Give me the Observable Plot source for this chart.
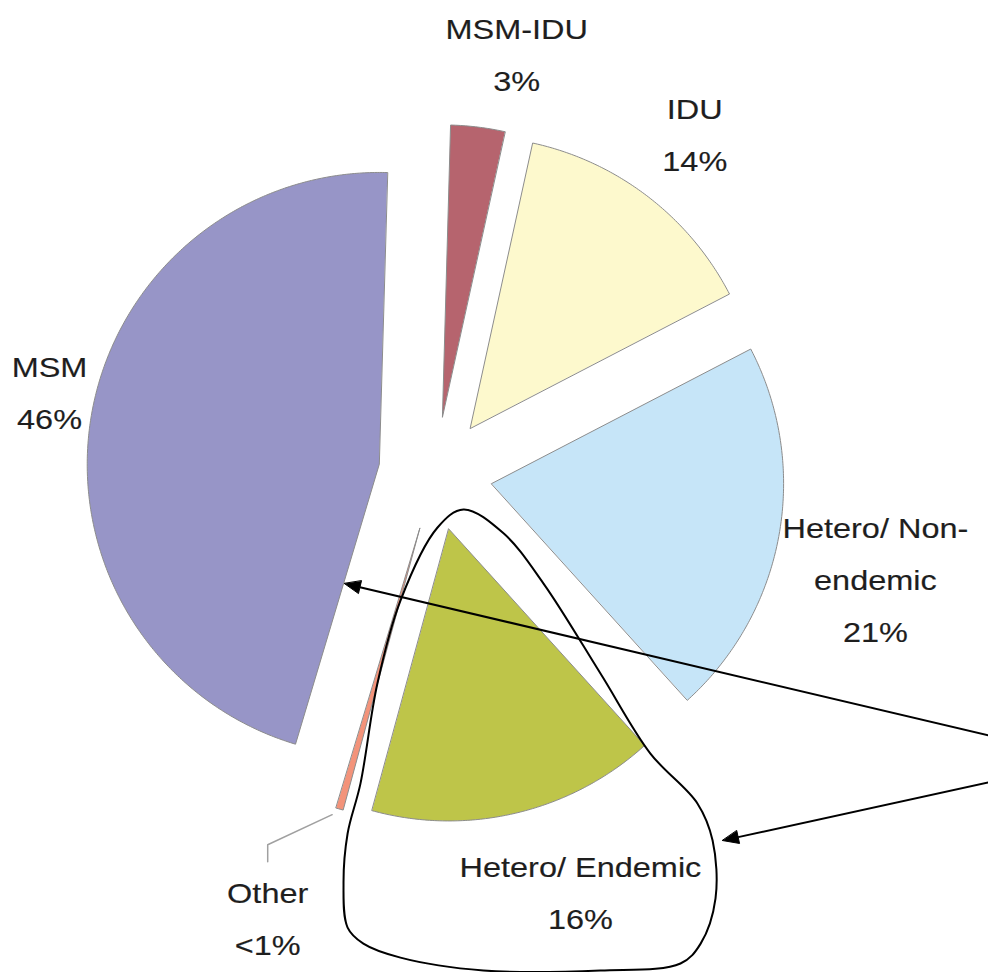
<!DOCTYPE html>
<html><head><meta charset="utf-8">
<script src="https://cdn.jsdelivr.net/npm/d3@7"></script>
<script src="https://cdn.jsdelivr.net/npm/@observablehq/plot@0.6"></script>
<style>
html,body{margin:0;padding:0;background:#fff;}
#chart svg{display:block;background:#fff;}
</style>
</head><body><div id="chart"></div>
<script>
// ---- data ----
const categories = ["MSM-IDU", "IDU", "Hetero/ Non-endemic", "Hetero/ Endemic", "Other", "MSM"];
const shares = [3, 14, 21, 16, 0.4, 46];
const shareLabels = ["3%", "14%", "21%", "16%", "<1%", "46%"];
const labelNames = ["MSM-IDU", "IDU", "Hetero/ Non-\nendemic", "Hetero/ Endemic", "Other", "MSM"];

// ---- styles / layout ----
const colors = ["#b6646e", "#fdf9cd", "#c6e5f8", "#bec549", "#f3937a", "#9795c7"];
const W = 988, H = 972;
const cx = 435, cy = 473, R = 292;      // pie centre and radius in pixels
const explode = 57 / R;                  // slice offset, in radii
const startDeg = 1.6;
const labelRadius = [1.46, 1.46, 1.55, 1.52, 1.63, 1.35];
const labelTurn = [4, 0, 3.4, -5.6, 4.7, 2.6];
const labelLift = 7 / R;
const rad = d => d * Math.PI / 180;

const arcs = d3.pie().sort(null).value(d => d)
  .startAngle(rad(startDeg)).endAngle(rad(startDeg + 360))(shares);

// slice outlines in the pie frame (unit radius, y up)
const sliceRows = [];
arcs.forEach((a, i) => {
  const m = (a.startAngle + a.endAngle) / 2;
  const ox = explode * Math.sin(m), oy = explode * Math.cos(m);
  const name = categories[i];
  sliceRows.push({name, x: ox, y: oy});
  const n = Math.max(2, Math.ceil((a.endAngle - a.startAngle) / rad(0.5)) + 1);
  for (let k = 0; k < n; k++) {
    const t = a.startAngle + (a.endAngle - a.startAngle) * k / (n - 1);
    sliceRows.push({name, x: ox + Math.sin(t), y: oy + Math.cos(t)});
  }
});

const labelRows = arcs.map((a, i) => {
  const m = (a.startAngle + a.endAngle) / 2 + rad(labelTurn[i]);
  return {name: categories[i], text: labelNames[i] + "\n" + shareLabels[i],
    x: labelRadius[i] * Math.sin(m), y: labelRadius[i] * Math.cos(m) + labelLift};
});

// leader for "Other"
const oi = 4, oa = arcs[oi], om = (oa.startAngle + oa.endAngle) / 2;
const oLab = labelRows[oi];
const leader = [
  {x: explode * Math.sin(om) + 1.02 * Math.sin(om) - 0.02, y: explode * Math.cos(om) + 1.02 * Math.cos(om)},
  {x: oLab.x, y: oLab.y + 0.254 - labelLift},
  {x: oLab.x, y: oLab.y + 0.196 - labelLift}
];

// annotation: closed outline around Hetero/ Endemic (pie frame)
const outline = [
  [0.096,-0.123],[0.233,-0.205],[0.370,-0.377],[0.565,-0.685],[0.736,-0.959],
  [0.897,-1.130],[0.949,-1.257],[0.959,-1.455],[0.908,-1.610],[0.839,-1.678],
  [0.565,-1.702],[0.164,-1.702],[-0.120,-1.658],[-0.247,-1.610],[-0.301,-1.555],
  [-0.315,-1.404],[-0.301,-1.233],[-0.257,-1.062],[-0.199,-0.719],[-0.120,-0.435],
  [0.007,-0.185]
].map(([x, y]) => ({x, y}));

// annotation arrows: from off to the right, to MSM and to the outline
const arrows = [
  {x1: 1.894, y1: -0.897, x2: -0.312, y2: -0.377},
  {x1: 1.894, y1: -1.058, x2: 0.983, y2: -1.257}
];
const headL = 16 / R, headW = 6.5 / R;
const shafts = [], heads = [];
arrows.forEach((a, i) => {
  const dx = a.x2 - a.x1, dy = a.y2 - a.y1, len = Math.hypot(dx, dy);
  const ux = dx / len, uy = dy / len, px = -uy, py = ux;
  const bx = a.x2 - headL * ux, by = a.y2 - headL * uy;
  shafts.push({x1: a.x1, y1: a.y1, x2: bx, y2: by});
  heads.push({id: i, x: a.x2, y: a.y2});
  heads.push({id: i, x: bx + headW * px, y: by + headW * py});
  heads.push({id: i, x: bx - headW * px, y: by - headW * py});
});

const font = "'Liberation Sans', Arial, Helvetica, sans-serif";

const chart = Plot.plot({
  width: W, height: H, margin: 0,
  style: {background: "#fff"},
  x: {domain: [-cx / R, (W - cx) / R], range: [0, W], axis: null},
  y: {domain: [(cy - H) / R, cy / R], range: [H, 0], axis: null},
  color: {domain: categories, range: colors},
  marks: [
    Plot.line(sliceRows, {x: "x", y: "y", z: "name", fill: "name", stroke: "#8c8c8c",
      strokeWidth: 1, curve: "linear-closed"}),
    Plot.line(leader, {x: "x", y: "y", stroke: "#a0a0a0", strokeWidth: 1.5}),
    Plot.text(labelRows, {x: "x", y: "y", text: "text", fontSize: 28, lineHeight: 1.86,
      fill: "#1e1e1e", stroke: "#1e1e1e", strokeWidth: 0.15, fontFamily: font,
      textAnchor: "middle", lineAnchor: "middle"}),
    Plot.line(outline, {x: "x", y: "y", stroke: "#000", strokeWidth: 2, curve: "catmull-rom-closed"}),
    Plot.link(shafts, {x1: "x1", y1: "y1", x2: "x2", y2: "y2", stroke: "#000", strokeWidth: 2}),
    Plot.line(heads, {x: "x", y: "y", z: "id", fill: "#000", stroke: "#000", strokeWidth: 1, curve: "linear-closed"})
  ]
});
// widen the label glyphs horizontally, as in the original artwork
chart.querySelectorAll('g[aria-label="text"] text').forEach(t => {
  const tr = t.getAttribute("transform");
  if (tr) t.setAttribute("transform", tr + " scale(1.16,1)");
});
document.getElementById("chart").appendChild(chart);
</script>
</body></html>
